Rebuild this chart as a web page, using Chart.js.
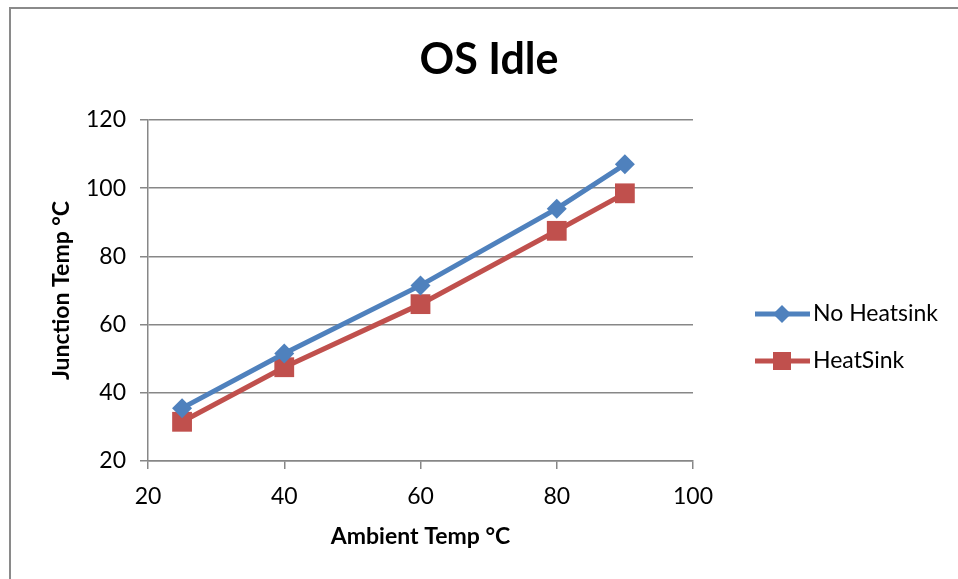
<!DOCTYPE html>
<html>
<head>
<meta charset="utf-8">
<script src="https://cdn.jsdelivr.net/npm/chart.js@4/dist/chart.umd.min.js"></script>
<style>
  html, body { margin: 0; padding: 0; background: #fff; }
  #frame {
    position: absolute; left: 9px; top: 7px; width: 1000px; height: 700px;
    border-top: 2px solid #8a8a8a; border-left: 2px solid #8a8a8a;
  }
  #wrap { position: absolute; left: 0; top: 0; width: 958px; height: 579px; }
</style>
</head>
<body>
<div id="frame"></div>
<div id="wrap"><canvas id="myChart" width="958" height="579"></canvas></div>
<script>
// values
const ambientTemps = [25, 40, 60, 80, 90];
const noHeatsink = [35.5, 51.5, 71.5, 94, 107];
const heatSink = [31.5, 47.5, 66, 87.5, 98.5];
const seriesNames = ["No Heatsink", "HeatSink"];
const chartTitle = "OS Idle";

const FONT = "Lato, 'Open Sans', sans-serif";

function toPoints(xs, ys) {
  return xs.map((x, i) => ({ x: x, y: ys[i] }));
}

// title + legend drawn at fixed spots, like the excel layout
const excelDecor = {
  id: "excelDecor",
  afterDraw(chart) {
    const ctx = chart.ctx;
    ctx.save();
    ctx.fillStyle = "#000";
    ctx.font = "bold 43px " + FONT;
    ctx.textAlign = "center";
    ctx.textBaseline = "middle";
    ctx.fillText(chartTitle, 489, 60);

    const rows = [314, 361];
    chart.data.datasets.forEach((ds, i) => {
      const y = rows[i];
      ctx.strokeStyle = ds.borderColor;
      ctx.lineWidth = 5;
      ctx.beginPath();
      ctx.moveTo(755, y);
      ctx.lineTo(810, y);
      ctx.stroke();
      ctx.fillStyle = ds.backgroundColor;
      ctx.beginPath();
      if (ds.pointStyle === "rectRot") {
        ctx.moveTo(782, y - 9);
        ctx.lineTo(791, y);
        ctx.lineTo(782, y + 9);
        ctx.lineTo(773, y);
        ctx.closePath();
      } else {
        ctx.rect(773, y - 9, 18, 18);
      }
      ctx.fill();
      ctx.fillStyle = "#000";
      ctx.font = "23px " + FONT;
      ctx.textAlign = "left";
      ctx.fillText(ds.label, 813, y);
    });
    ctx.restore();
  }
};

const gridGray = "#878787";

new Chart(document.getElementById("myChart").getContext("2d"), {
  type: "line",
  data: {
    datasets: [
      {
        label: seriesNames[0],
        data: toPoints(ambientTemps, noHeatsink),
        borderColor: "#4F81BD",
        backgroundColor: "#4F81BD",
        borderWidth: 5,
        pointStyle: "rectRot",
        pointRadius: 10,
        pointHoverRadius: 10,
        pointBorderWidth: 0
      },
      {
        label: seriesNames[1],
        data: toPoints(ambientTemps, heatSink),
        borderColor: "#C0504D",
        backgroundColor: "#C0504D",
        borderWidth: 5,
        pointStyle: "rect",
        pointRadius: 14,
        pointHoverRadius: 14,
        pointBorderWidth: 0
      }
    ]
  },
  plugins: [excelDecor],
  options: {
    responsive: false,
    animation: false,
    layout: { padding: { left: 0, top: 120, right: 265, bottom: 0 } },
    plugins: {
      legend: { display: false },
      title: { display: false },
      tooltip: { enabled: false }
    },
    scales: {
      x: {
        type: "linear",
        min: 20,
        max: 100,
        ticks: { stepSize: 20, padding: 14, color: "#000", font: { family: FONT, size: 23 } },
        grid: { drawOnChartArea: false, drawTicks: true, tickLength: 8, color: gridGray, lineWidth: 1.5 },
        border: { display: true, color: gridGray, width: 1.5 },
        title: {
          display: true,
          text: "Ambient Temp °C",
          color: "#000",
          font: { family: FONT, size: 23, weight: "bold" },
          padding: { top: 0, bottom: 29 }
        },
        afterFit(scale) { scale.height = 118; }
      },
      y: {
        min: 20,
        max: 120,
        ticks: { stepSize: 20, padding: 14, color: "#000", font: { family: FONT, size: 23 } },
        grid: { drawOnChartArea: true, drawTicks: true, tickLength: 8, color: gridGray, lineWidth: 1.5 },
        border: { display: true, color: gridGray, width: 1.5 },
        title: {
          display: true,
          text: "Junction Temp °C",
          color: "#000",
          font: { family: FONT, size: 23, weight: "bold" },
          padding: { top: 48, bottom: 0 }
        },
        afterFit(scale) { scale.width = 148; }
      }
    }
  }
});
</script>
</body>
</html>
